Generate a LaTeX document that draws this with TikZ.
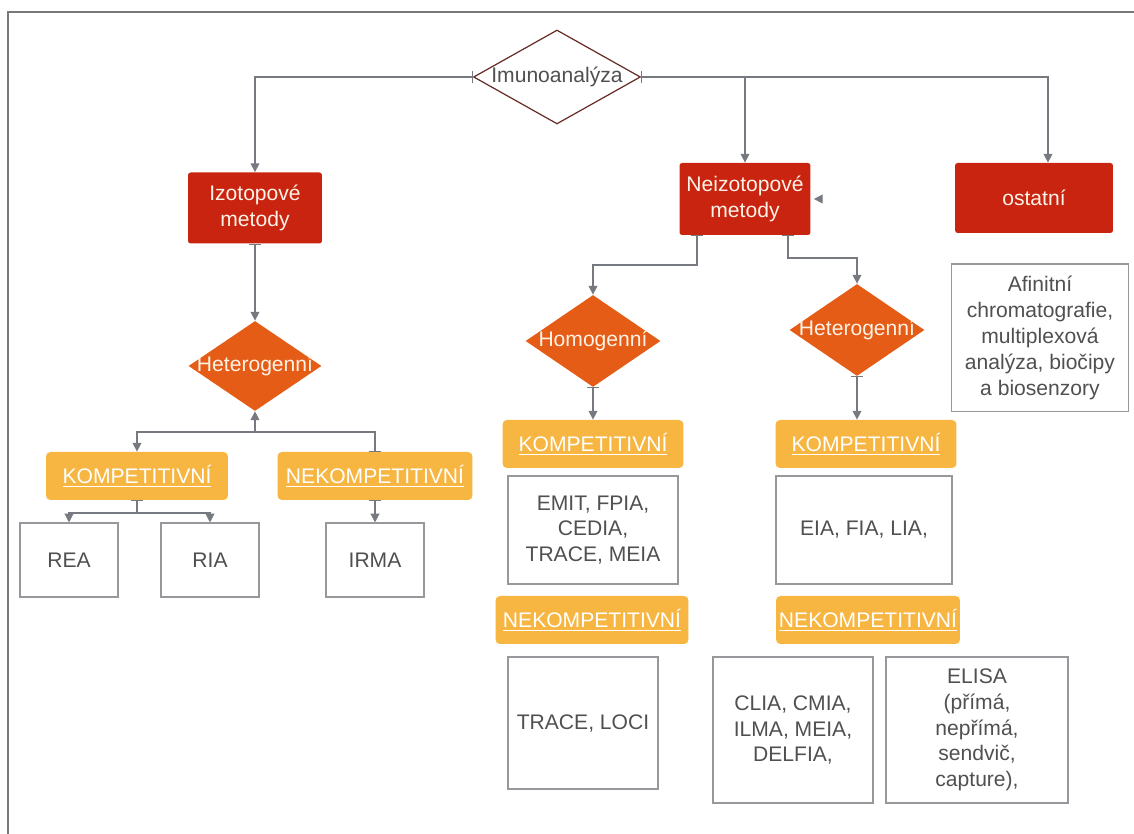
\documentclass[tikz,border=0pt]{standalone}
\usepackage{fontspec}
\setmainfont{Liberation Sans}
\usetikzlibrary{shapes.geometric,arrows.meta}
\definecolor{boxred}{RGB}{200,36,16}
\definecolor{diaorange}{RGB}{228,92,22}
\definecolor{tagyellow}{RGB}{247,182,66}
\definecolor{linegray}{RGB}{118,122,128}
\definecolor{boxgray}{RGB}{150,152,156}
\definecolor{framegray}{RGB}{120,120,120}
\definecolor{txtgray}{RGB}{80,80,80}
\definecolor{imunoline}{RGB}{105,45,40}
\definecolor{cream}{RGB}{255,242,230}

\begin{document}
\begin{tikzpicture}[x=0.02cm,y=0.02cm,
    font=\fontsize{12}{14.7}\selectfont,
    method/.style={fill=boxred,rounded corners=1.5pt,text=cream,align=center,inner sep=0pt},
    choice/.style={diamond,fill=diaorange,inner sep=0pt,text=cream},
    tag/.style={fill=tagyellow,rounded corners=2.5pt,text=white,inner sep=0pt,minimum height=0.96cm},
    leaf/.style={draw=boxgray,line width=0.6pt,text=txtgray,align=center,inner sep=0pt},
    wire/.style={draw=linegray,line width=0.7pt},
    arr/.style={wire,-{Triangle[width=5pt,length=5pt]}},
    flow/.style={wire,{Bar[width=7pt,line width=0.6pt]}-{Triangle[width=5pt,length=5pt]}}]
    \useasboundingbox (0,0) rectangle (1134,834);
    \draw[framegray,line width=1.2pt] (8,0) -- (8,822) -- (1134,822);

    \node[choice,draw=imunoline,line width=0.7pt,fill=white,text=txtgray,minimum width=3.34cm,minimum height=1.88cm] (imuno) at (557,757) {\makebox[0pt]{Imunoanalýza}};
    \node[method,minimum width=2.68cm,minimum height=1.42cm] (izo) at (255,626) {Izotopové\\metody};
    \node[method,minimum width=2.62cm,minimum height=1.44cm] (neizo) at (745,635) {Neizotopové\\metody};
    \node[method,minimum width=3.16cm,minimum height=1.40cm] (ostatni) at (1034,636) {ostatní};

    \node[choice,minimum width=2.66cm,minimum height=1.8cm] (hetiz) at (255,468) {\makebox[0pt]{Heterogenní}};
    \node[choice,minimum width=2.7cm,minimum height=1.84cm] (homo) at (593,493) {\makebox[0pt]{Homogenní}};
    \node[choice,minimum width=2.7cm,minimum height=1.84cm] (hetne) at (857,504) {\makebox[0pt]{Heterogenní}};

    \node[tag,minimum width=3.64cm] (kompiz) at (137,358) {\underline{KOMPETITIVNÍ}};
    \node[tag,minimum width=3.9cm] (nekompiz) at (375,358) {\underline{NEKOMPETITIVNÍ}};
    \node[tag,minimum width=3.62cm] (kompho) at (593,390) {\underline{KOMPETITIVNÍ}};
    \node[tag,minimum width=3.62cm] (kompne) at (866,390) {\underline{KOMPETITIVNÍ}};
    \node[tag,minimum width=3.86cm] (nekompho) at (592,214) {\underline{NEKOMPETITIVNÍ}};
    \node[tag,minimum width=3.68cm] (nekompne) at (868,214) {\underline{NEKOMPETITIVNÍ}};

    \node[leaf,minimum width=1.96cm,minimum height=1.48cm] (rea) at (69,274) {REA};
    \node[leaf,minimum width=1.96cm,minimum height=1.48cm] (ria) at (210,274) {RIA};
    \node[leaf,minimum width=1.96cm,minimum height=1.48cm] (irma) at (375,274) {IRMA};
    \node[leaf,minimum width=3.4cm,minimum height=2.16cm] (emit) at (593,304) {EMIT, FPIA,\\CEDIA,\\TRACE, MEIA};
    \node[leaf,minimum width=3.52cm,minimum height=2.16cm] (eia) at (864,304) {EIA, FIA, LIA,};
    \node[leaf,minimum width=3.0cm,minimum height=2.64cm] (loci) at (583,111) {TRACE, LOCI};
    \node[leaf,minimum width=3.2cm,minimum height=2.92cm] (clia) at (793,104) {CLIA, CMIA,\\ILMA, MEIA,\\DELFIA,};
    \node[leaf,minimum width=3.64cm,minimum height=2.92cm] (elisa) at (977,104) {ELISA\\(přímá,\\nepřímá,\\sendvič,\\capture),};
    \node[leaf,minimum width=3.54cm,minimum height=2.96cm] (afin) at (1040,496) {Afinitní\\chromatografie,\\multiplexová\\analýza, biočipy\\a biosenzory};

    \coordinate (hj) at (255,402);
    \coordinate (kj) at (137,321);
    \coordinate (nl) at (697,569);
    \coordinate (nr) at (788,576);

    \draw[flow] (imuno.west) -| (izo.north);
    \draw[flow] (imuno.east) -| (neizo.north);
    \draw[flow] (imuno.east) -| ([xshift=0.28cm]ostatni.north);
    \draw[flow] (izo.south) -- (hetiz.north);
    \draw[flow] (nekompiz.north) |- (hj) -- (hetiz.south);
    \draw[arr] (hj) -| (kompiz.north);
    \draw[flow] (kompiz.south) -- (kj) -| (rea.north);
    \draw[arr] (kj) -| (ria.north);
    \draw[flow] (nekompiz.south) -- (irma.north);
    \draw[flow] (nl |- neizo.south) -- (nl) -| (homo.north);
    \draw[flow] (nr |- neizo.south) -- (nr) -| (hetne.north);
    \draw[flow] (homo.south) -- (kompho.north);
    \draw[flow] (hetne.south) -- (hetne.south |- kompne.north);
    \draw[arr] ([xshift=0.16cm]neizo.east) -- ([xshift=0.06cm]neizo.east);
\end{tikzpicture}
\end{document}
